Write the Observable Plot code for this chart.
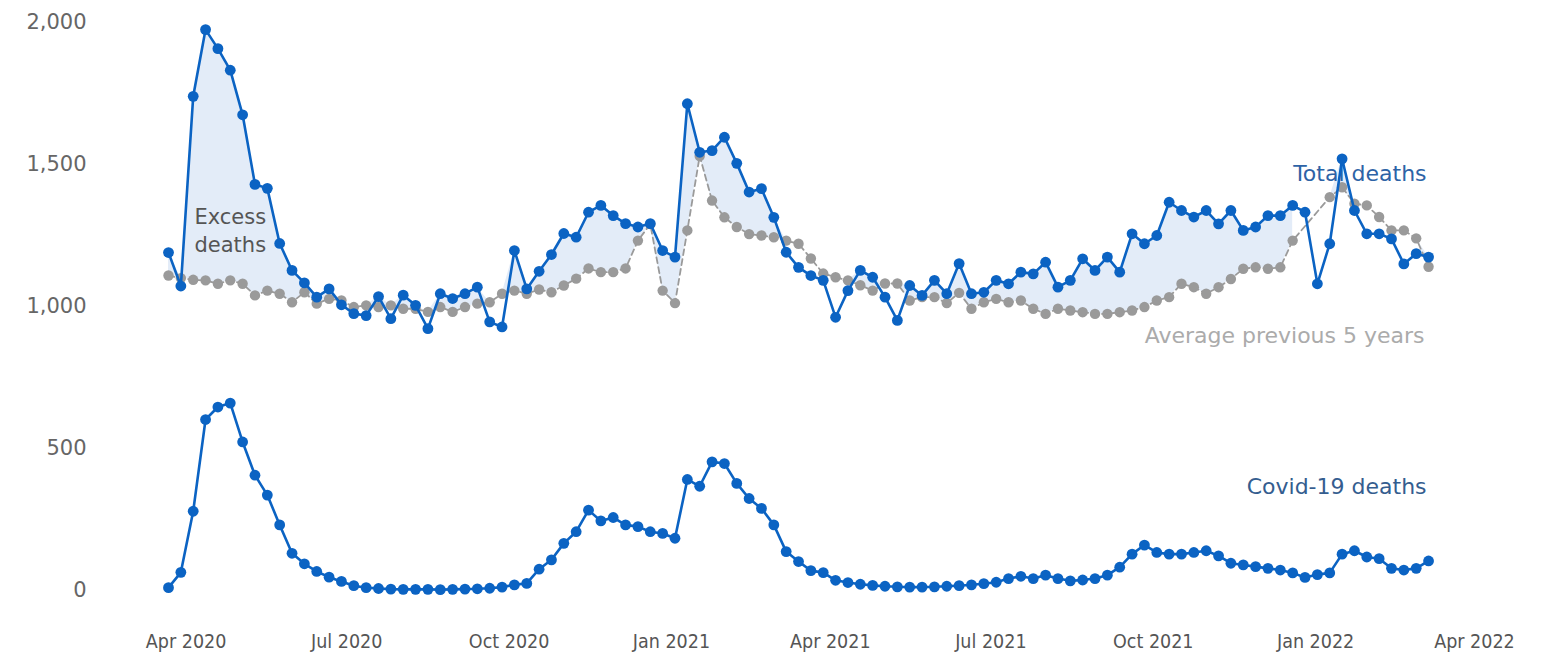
<!DOCTYPE html>
<html>
<head>
<meta charset="utf-8">
<script src="https://cdn.jsdelivr.net/npm/d3@7"></script>
<script src="https://cdn.jsdelivr.net/npm/@observablehq/plot@0.6"></script>
<style>
  html, body { margin: 0; padding: 0; background: #ffffff; }
  #chart svg { display: block; }
</style>
</head>
<body>
<div id="chart"></div>
<script>
// Weekly series, week ending Sunday, first week ends 22 Mar 2020
const firstWeek = "2020-03-22";

const totalDeaths = [
  1190,1072,1740,1975,1908,1832,1675,1430,1416,1222,
  1127,1083,1033,1062,1006,975,968,1035,957,1040,
  1004,922,1045,1028,1045,1068,946,928,1197,1062,
  1124,1183,1257,1244,1332,1356,1320,1292,1280,1292,
  1197,1174,1714,1543,1549,1596,1504,1403,1415,1314,
  1191,1138,1109,1092,962,1056,1127,1103,1033,951,
  1074,1039,1092,1045,1151,1045,1050,1092,1080,1121,
  1115,1156,1068,1092,1168,1127,1174,1121,1256,1221,
  1250,1367,1338,1315,1338,1291,1338,1268,1280,1320,
  1320,1356,1332,1080,1221,1520,1338,1256,1256,1238,
  1150,1186,1174
];

const averagePrev5Years = [
  1109,1100,1094,1092,1080,1092,1080,1039,1056,1045,
  1015,1050,1010,1027,1021,998,1004,998,1004,992,
  992,981,998,981,998,1010,1015,1045,1056,1045,
  1060,1050,1074,1098,1134,1121,1121,1134,1232,1290,
  1056,1012,1268,1530,1373,1314,1280,1255,1250,1244,
  1232,1221,1169,1116,1103,1092,1075,1056,1081,1081,
  1021,1033,1033,1012,1048,992,1015,1027,1015,1021,
  992,974,992,986,980,974,974,980,986,998,
  1021,1033,1080,1068,1045,1068,1097,1133,1138,1133,
  1138,1232,null,null,1385,1420,1362,1356,1315,1268,
  1268,1240,1140
];

const covidDeaths = [
  10,64,279,602,646,660,523,406,336,231,
  131,94,67,47,32,17,10,7,5,4,
  4,4,3,4,5,6,8,12,20,25,
  75,108,166,207,283,245,257,231,225,207,
  201,184,391,367,453,447,377,324,289,231,
  137,102,70,
  63,36,28,22,18,15,13,12,12,13,
  15,17,20,24,29,42,50,42,54,42,
  34,37,42,54,82,128,160,134,128,128,
  134,140,122,96,90,84,78,72,62,46,
  56,62,128,140,118,112,78,72,78,104
];

const yTicks = [0, 500, 1000, 1500, 2000];
const xTicks = ["2020-04-01","2020-07-01","2020-10-01","2021-01-01","2021-04-01",
                "2021-07-01","2021-10-01","2022-01-01","2022-04-01"];

const seriesLabels = {
  total: "Total deaths",
  average: "Average previous 5 years",
  covid: "Covid-19 deaths",
  excess: "Excess\ndeaths"
};

// Build rows
const start = new Date(firstWeek + "T00:00:00Z");
const rows = totalDeaths.map((t, i) => ({
  date: d3.utcDay.offset(start, 7 * i),
  total: t,
  avg: averagePrev5Years[i],
  covid: covidDeaths[i]
}));
const avgRows = rows.filter(d => d.avg != null);
const last = rows[rows.length - 1];

const BLUE = "#0b63c3";
const GRAY = "#9a9a9a";

const chart = Plot.plot({
  width: 1544,
  height: 662,
  marginLeft: 168,
  marginRight: 63,
  marginTop: 22,
  marginBottom: 72,
  style: { fontFamily: "DejaVu Sans, sans-serif", background: "#ffffff", overflow: "visible" },
  x: { type: "utc", domain: [start, new Date("2022-04-05T00:00:00Z")] },
  y: { domain: [0, 2000] },
  marks: [
    Plot.axisY(yTicks, {
      tickSize: 0, tickPadding: 82, fontSize: 21, fill: "#666",
      tickFormat: d3.format(","), label: null
    }),
    Plot.axisX(xTicks.map(d => new Date(d + "T00:00:00Z")), {
      tickSize: 0, tickPadding: 44, fontSize: 19.5, fill: "#555",
      fontFamily: "DejaVu Sans Condensed, Liberation Sans Narrow, DejaVu Sans, sans-serif",
      tickFormat: d3.utcFormat("%b %Y"), label: null
    }),
    // excess fill between total and average
    Plot.areaY(rows, {
      x: "date",
      y1: d => d.avg,
      y2: d => d.avg == null ? null : Math.max(d.total, d.avg),
      fill: "#e3ecf8"
    }),
    // annotations
    Plot.text([last], {
      x: "date", y: () => 1465, text: () => seriesLabels.total,
      textAnchor: "end", dx: -2, fontSize: 22, fill: "#2d63a6"
    }),
    Plot.text([last], {
      x: "date", y: () => 898, text: () => seriesLabels.average,
      textAnchor: "end", dx: -4, fontSize: 22, fill: "#ababab"
    }),
    Plot.text([last], {
      x: "date", y: () => 366, text: () => seriesLabels.covid,
      textAnchor: "end", dx: -2, fontSize: 22, fill: "#345d8f"
    }),
    Plot.text([rows[5]], {
      x: "date", y: () => 1272, text: () => seriesLabels.excess,
      textAnchor: "middle", fontSize: 21, fill: "#555", lineHeight: 1.3
    }),
    // average previous 5 years
    Plot.line(avgRows, {
      x: "date", y: "avg", stroke: GRAY, strokeWidth: 1.8, strokeDasharray: "6,4"
    }),
    Plot.dot(avgRows, { x: "date", y: "avg", r: 5.2, fill: GRAY, stroke: "none" }),
    // total deaths
    Plot.line(rows, { x: "date", y: "total", stroke: BLUE, strokeWidth: 2.6 }),
    Plot.dot(rows, { x: "date", y: "total", r: 5.4, fill: BLUE, stroke: "none" }),
    // covid deaths
    Plot.line(rows, { x: "date", y: "covid", stroke: BLUE, strokeWidth: 2.6 }),
    Plot.dot(rows, { x: "date", y: "covid", r: 5.4, fill: BLUE, stroke: "none" })
  ]
});

document.getElementById("chart").appendChild(chart);
</script>
</body>
</html>
